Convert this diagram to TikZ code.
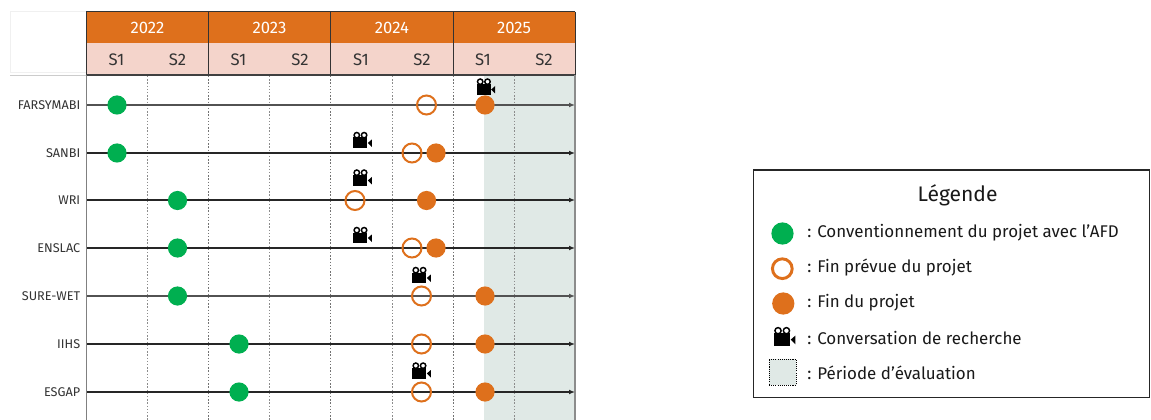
\documentclass[tikz,border=0pt]{standalone}
\usepackage{fontspec}
\setmainfont{Fira Sans}
\usetikzlibrary{arrows.meta}
\definecolor{orangeH}{HTML}{DE701C}
\definecolor{pinkH}{HTML}{F4D4CB}
\definecolor{greenM}{HTML}{00AF50}
\definecolor{evalC}{HTML}{E0E9E6}
\definecolor{txtC}{HTML}{333333}
\tikzset{
  x=0.75pt,y=-0.75pt,
  startdot/.style={circle,fill=greenM,minimum size=14.4pt,inner sep=0pt,outer sep=0pt},
  plandot/.style={circle,draw=orangeH,line width=1.5pt,minimum size=14.25pt,inner sep=0pt,outer sep=0pt},
  enddot/.style={circle,fill=orangeH,minimum size=14.4pt,inner sep=0pt,outer sep=0pt},
  yearlab/.style={text=white,font=\fontsize{12.5}{14}\selectfont,inner sep=0pt},
  semlab/.style={text=txtC,font=\fontsize{12.5}{14}\selectfont,inner sep=0pt},
  rowlab/.style={text=txtC,anchor=east,font=\fontsize{9.5}{11}\selectfont,inner sep=0pt},
  leglab/.style={text=black!90,anchor=west,font=\fontsize{12.7}{15}\selectfont,inner sep=0pt},
  rowline/.style={line width=1.3pt,draw=black!85,-{Latex[length=4.5pt,width=3.6pt]}},
  rowlineB/.style={line width=1.5pt,draw=black!68,-{Latex[length=4.5pt,width=3.6pt]}},
  griddot/.style={draw=black!45,line width=0.6pt,dash pattern=on 1pt off 1.4pt},
  griddotB/.style={draw=black!55,line width=0.6pt,dash pattern=on 1pt off 1.4pt},
  camera/.pic={
    \fill[black] (-8,-3) rectangle (6,7.7);
    \fill[black] (6.5,2.5) -- (10.5,-1) -- (10.5,6.5) -- cycle;
    \draw[black,line width=1.1pt,fill=white] (-4.5,-5.3) circle (2.7);
    \draw[black,line width=1.1pt,fill=white] (2.8,-5.3) circle (2.7);
  }
}
\begin{document}
\begin{tikzpicture}
\useasboundingbox (0,0) rectangle (1151,420);
\fill[white] (0,0) rectangle (1151,420);
% evaluation band
\fill[evalC] (483.5,76) rectangle (575,420);
% header
\draw[black!6,line width=0.75pt] (10,12) rectangle (86,73);
\fill[orangeH] (86.5,12) rectangle (575,43);
\fill[pinkH] (86.5,43) rectangle (575,75);
\foreach \xa/\yr in {147.5/2022,269.5/2023,392/2024,514/2025}{
  \node[yearlab] (y\yr) at (\xa,28) {\yr};
}
\foreach \xa/\nm/\sm in {116.5/a/S1,177.5/b/S2,238.5/c/S1,300/d/S2,361/e/S1,422/f/S2,483/g/S1,544/h/S2}{
  \node[semlab] (s\nm) at (\xa,59.5) {\sm};
}
% grid
\foreach \xa in {147.5,269.5,392,514}{\draw[griddot] (\xa,76) -- (\xa,420);}
\foreach \xa in {208.5,330.5,453}{\draw[griddotB] (\xa,76) -- (\xa,420);}
\foreach \xa in {86.5,208.5,330.5,453,575}{\draw[black!80,line width=0.75pt] (\xa,12) -- (\xa,75);}
\draw[black!80,line width=0.75pt] (86,12) -- (575,12);
\draw[black!20,line width=0.75pt] (10,76) -- (86,76);
\draw[black!75,line width=0.9pt] (86,75) -- (575,75);
\draw[black!50,line width=1.1pt] (86.5,75) -- (86.5,420);
\draw[black!45,line width=1.1pt] (575,75) -- (575,420);
% rows
\foreach \yy/\nm/\lab/\stl in {105/r1/FARSYMABI/rowlineB,153/r2/SANBI/rowline,200/r3/WRI/rowline,248/r4/ENSLAC/rowline,296/r5/SURE-WET/rowlineB,344/r6/IIHS/rowline,392/r7/ESGAP/rowline}{
  \node[rowlab] (\nm) at (80.5,\yy) {\lab};
  \coordinate (\nm a) at (87,\yy);
  \coordinate (\nm b) at (575,\yy);
  \draw[\stl] (\nm a) -- (\nm b);
}
% markers
\foreach \xa/\yy/\nm in {117/105/g1,117/153/g2,177.5/200.5/g3,177.5/248/g4,177.5/296/g5,239/344/g6,239/392/g7}{
  \node[startdot] (\nm) at (\xa,\yy) {};
}
\foreach \xa/\yy/\nm in {426.5/105/p1,412/153/p2,355/200.5/p3,412/248/p4,421.5/296/p5,421.5/344/p6,421.5/392/p7}{
  \node[plandot] (\nm) at (\xa,\yy) {};
}
\foreach \xa/\yy/\nm in {485/105/e1,436/153/e2,426.5/200.5/e3,436/248/e4,485/296/e5,485/344/e6,485/392/e7}{
  \node[enddot] (\nm) at (\xa,\yy) {};
}
\foreach \xa/\yy in {484.7/87,361.3/140.5,361.3/178,361.3/235.5,420.3/275.5,420.3/371}{
  \pic at (\xa,\yy) {camera};
}
% legend
\node[draw=black!85,line width=0.9pt,fill=white,minimum width=297.5pt,minimum height=170.25pt,inner sep=0pt,anchor=north west] (legend) at (752.5,169.5) {};
\node[text=black!90,font=\fontsize{15.8}{18}\selectfont,inner sep=0pt] (legtitle) at (957.5,195) {Légende};
\node[startdot,minimum size=16.7pt] (lg) at (782.5,233.5) {};
\node[plandot,minimum size=14.8pt,line width=2.2pt] (lp) at (782.3,268.7) {};
\node[enddot,minimum size=16.7pt] (le) at (783.3,303.5) {};
\pic[scale=1.15] at (783.2,336.8) {camera};
\node[draw=black,fill=evalC,line width=0.75pt,dash pattern=on 0.8pt off 0.8pt,minimum width=20.25pt,minimum height=19.5pt,inner sep=0pt] (lr) at (782.5,372) {};
\node[leglab] (t1) at (807,233) {: Conventionnement du projet avec l’AFD};
\node[leglab] (t2) at (807,268) {: Fin prévue du projet};
\node[leglab] (t3) at (807,303) {: Fin du projet};
\node[leglab] (t4) at (807,337.5) {: Conversation de recherche};
\node[leglab] (t5) at (807,372.5) {: Période d’évaluation};
\end{tikzpicture}
\end{document}
